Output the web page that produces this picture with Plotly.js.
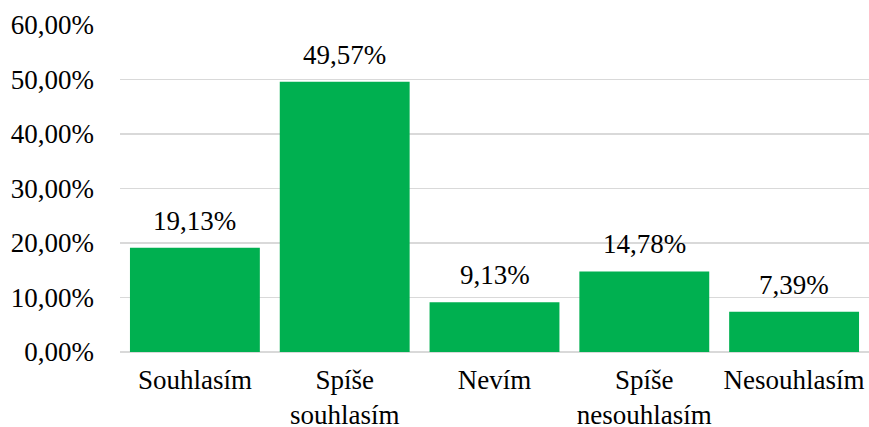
<!DOCTYPE html>
<html>
<head>
<meta charset="utf-8">
<script src="https://cdn.plot.ly/plotly-3.0.1.min.js"></script>
<style>html,body{margin:0;padding:0;background:#fff;}#chart{width:869px;height:427px;}</style>
</head>
<body>
<div id="chart"></div>
<script>
const categories = ["Souhlasím", "Spíše<br>souhlasím", "Nevím", "Spíše<br>nesouhlasím", "Nesouhlasím"];
const values = [19.13, 49.57, 9.13, 14.78, 7.39];
const yTicks = [0, 10, 20, 30, 40, 50, 60];

const FONT = "'Liberation Serif', 'Times New Roman', Times, serif";
const FS = 27;

const trace = {
  type: "bar",
  x: categories,
  y: values,
  marker: {color: "#00B050"},
  hoverinfo: "none"
};

const annotations = categories.map((c, i) => ({
  x: c, y: values[i], xref: "x", yref: "y",
  text: values[i].toFixed(2).replace(".", ",") + "%",
  showarrow: false, yanchor: "bottom", yshift: 10,
  font: {family: FONT, size: FS, color: "#000"}
}));

const layout = {
  width: 869, height: 427,
  margin: {l: 120, r: 0, t: 25, b: 75},
  paper_bgcolor: "#fff", plot_bgcolor: "#fff",
  separators: ", ",
  bargap: 0.133,
  showlegend: false,
  font: {family: FONT, size: FS, color: "#000"},
  xaxis: {
    showgrid: false, zeroline: false, showline: false,
    tickfont: {family: FONT, size: FS, color: "#000"},
    ticks: "", ticklabelstandoff: 9, fixedrange: true
  },
  yaxis: {
    range: [0, 60], tickvals: yTicks,
    ticktext: yTicks.map(v => v.toFixed(2).replace(".", ",") + "%"),
    showgrid: true, gridcolor: "#d9d9d9", gridwidth: 1.5,
    zeroline: true, zerolinecolor: "#d9d9d9", zerolinewidth: 1.5,
    showline: false, ticks: "", ticklabelstandoff: 25,
    tickfont: {family: FONT, size: FS, color: "#000"},
    fixedrange: true
  },
  annotations: annotations
};

Plotly.newPlot("chart", [trace], layout, {displayModeBar: false, staticPlot: true});
</script>
</body>
</html>
